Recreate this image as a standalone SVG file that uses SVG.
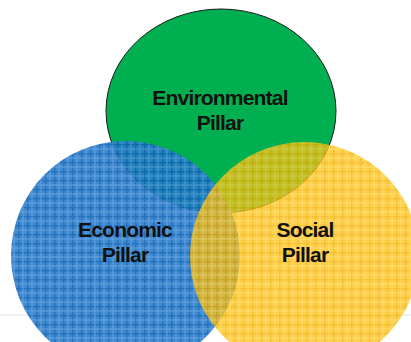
<svg xmlns="http://www.w3.org/2000/svg" width="411" height="342" viewBox="0 0 411 342">
  <defs>
    <pattern id="plaidBlue" width="9" height="9" patternUnits="userSpaceOnUse">
      <rect width="9" height="9" fill="#2B7DCC"/>
      <rect x="0" y="0" width="9" height="1.5" fill="#0E63B6"/>
      <rect x="0" y="0" width="1.5" height="9" fill="#0E63B6"/>
      <rect x="4.5" y="0" width="1" height="9" fill="#5497DC"/>
      <rect x="0" y="4.5" width="9" height="1" fill="#5497DC"/>
    </pattern>
    <pattern id="plaidYellow" width="9" height="9" patternUnits="userSpaceOnUse">
      <rect width="9" height="9" fill="#FFC414"/>
      <rect x="0" y="0" width="9" height="1.5" fill="#F2B000"/>
      <rect x="0" y="0" width="1.5" height="9" fill="#F2B000"/>
      <rect x="4.5" y="0" width="1" height="9" fill="#FFD54D"/>
      <rect x="0" y="4.5" width="9" height="1" fill="#FFD54D"/>
    </pattern>
  </defs>
  <style>
    .lbl { font-family: "Liberation Sans", Arial, sans-serif; font-weight: bold; font-size: 21px; fill: #111; text-anchor: middle; letter-spacing: -0.8px; }
  </style>
  <rect width="411" height="342" fill="#ffffff"/>
  <line x1="0" y1="315" x2="411" y2="315" stroke="#e2e2e2" stroke-width="1"/>
  <g id="environmental">
    <ellipse cx="221" cy="111" rx="115" ry="102" fill="#00B050" stroke="#1a1a1a" stroke-width="1"/>
  </g>
  <g id="economic">
    <ellipse cx="125.5" cy="255.5" rx="114.5" ry="114.5" fill="url(#plaidBlue)" opacity="0.9"/>
  </g>
  <g id="social">
    <ellipse cx="304.5" cy="256" rx="114.5" ry="114" fill="url(#plaidYellow)" opacity="0.78"/>
  </g>
  <g id="labels">
    <text class="lbl" x="220" y="105">Environmental</text>
    <text class="lbl" x="220" y="130">Pillar</text>
    <text class="lbl" x="125" y="237">Economic</text>
    <text class="lbl" x="125" y="262">Pillar</text>
    <text class="lbl" x="305" y="237">Social</text>
    <text class="lbl" x="305" y="262">Pillar</text>
  </g>
  <g id="connectors"/>
</svg>
